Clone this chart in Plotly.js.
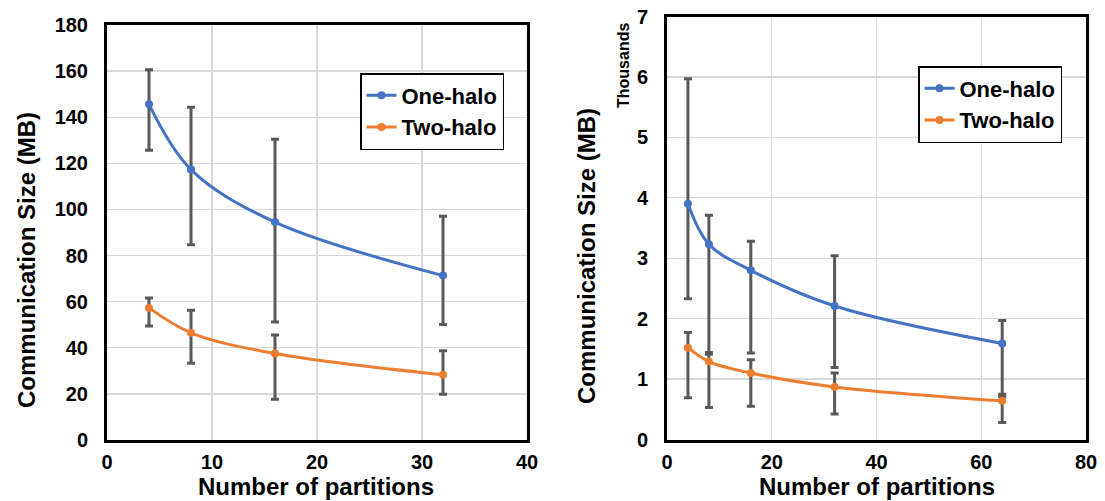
<!DOCTYPE html>
<html>
<head>
<meta charset="utf-8">
<script src="https://cdn.plot.ly/plotly-3.0.1.min.js"></script>
<style>html,body{margin:0;padding:0;background:#fff;}#chart{width:1105px;height:501px;}</style>
</head>
<body>
<div id="chart"></div>
<script>
// Left chart (MB)
const partsA = [4, 8, 16, 32];
const oneHaloA = [145.6, 117.3, 94.5, 71.3];
const oneHaloA_hi = [160.6, 144.3, 130.4, 97.0];
const oneHaloA_lo = [125.7, 84.7, 51.2, 50.1];
const twoHaloA = [57.3, 46.5, 37.5, 28.3];
const twoHaloA_hi = [61.6, 56.3, 45.5, 38.7];
const twoHaloA_lo = [49.4, 33.3, 17.7, 19.8];

// Right chart (thousands of MB)
const partsB = [4, 8, 16, 32, 64];
const oneHaloB = [3.90, 3.23, 2.80, 2.21, 1.59];
const oneHaloB_hi = [5.97, 3.71, 3.28, 3.04, 1.97];
const oneHaloB_lo = [2.33, 1.44, 1.43, 1.19, 0.75];
const twoHaloB = [1.52, 1.29, 1.10, 0.87, 0.64];
const twoHaloB_hi = [1.77, 1.41, 1.32, 1.10, 0.71];
const twoHaloB_lo = [0.69, 0.53, 0.55, 0.42, 0.28];

const seriesNames = ['One-halo', 'Two-halo'];
const colors = ['#4472C4', '#ED7D31'];
const errColor = '#595959';

const FONT = 'Liberation Sans, Arial, Helvetica, sans-serif';

function diff(a, b) { return a.map((v, i) => v - b[i]); }

function mk(x, y, hi, lo, idx, xa, ya, leg) {
  return {
    x: x, y: y, name: seriesNames[idx], type: 'scatter', mode: 'lines+markers',
    xaxis: xa, yaxis: ya, legend: leg,
    line: {color: colors[idx], width: 3, shape: 'spline', smoothing: 1},
    marker: {color: colors[idx], size: 8},
    error_y: {type: 'data', symmetric: false, array: diff(hi, y), arrayminus: diff(y, lo),
      color: errColor, thickness: 3, width: 4}
  };
}

const data = [
  mk(partsA, oneHaloA, oneHaloA_hi, oneHaloA_lo, 0, 'x', 'y', 'legend'),
  mk(partsA, twoHaloA, twoHaloA_hi, twoHaloA_lo, 1, 'x', 'y', 'legend'),
  mk(partsB, oneHaloB, oneHaloB_hi, oneHaloB_lo, 0, 'x2', 'y2', 'legend2'),
  mk(partsB, twoHaloB, twoHaloB_hi, twoHaloB_lo, 1, 'x2', 'y2', 'legend2')
];

const axBase = {
  showline: true, mirror: true, linecolor: '#000', linewidth: 3,
  showgrid: true, gridcolor: '#d9d9d9', gridwidth: 1.3,
  zeroline: false, ticks: '',
  tickfont: {family: FONT, size: 20, color: '#000', weight: 'bold'},
  fixedrange: true
};

const legBase = {
  bgcolor: '#fff', bordercolor: '#000', borderwidth: 1.5,
  font: {family: FONT, size: 22, color: '#000', weight: 'bold'},
  xanchor: 'left', yanchor: 'top', tracegroupgap: 0, itemwidth: 30
};

const layout = {
  width: 1105, height: 501,
  margin: {l: 0, r: 0, t: 0, b: 0},
  paper_bgcolor: '#fff', plot_bgcolor: '#fff',
  showlegend: true,
  xaxis: Object.assign({}, axBase, {domain: [107/1105, 527/1105], range: [0, 40], dtick: 10, tick0: 0, anchor: 'y', ticklabelstandoff: 2}),
  yaxis: Object.assign({}, axBase, {domain: [1 - 440/501, 1 - 25/501], range: [0, 180], dtick: 20, tick0: 0, anchor: 'x', ticklabelstandoff: 12}),
  xaxis2: Object.assign({}, axBase, {domain: [667/1105, 1086/1105], range: [0, 80], dtick: 20, tick0: 0, anchor: 'y2', ticklabelstandoff: 2}),
  yaxis2: Object.assign({}, axBase, {domain: [1 - 439.5/501, 1 - 16.5/501], range: [0, 7], dtick: 1, tick0: 0, anchor: 'x2', ticklabelstandoff: 12}),
  legend: Object.assign({}, legBase, {x: 360/1105, y: 1 - 73/501}),
  legend2: Object.assign({}, legBase, {x: 918/1105, y: 1 - 66/501}),
  annotations: [
    {text: 'Communication Size (MB)', xref: 'paper', yref: 'paper', x: 26/1105, y: 1 - 260/501, textangle: -90,
     showarrow: false, xanchor: 'center', yanchor: 'middle', font: {family: FONT, size: 24, color: '#000', weight: 'bold'}},
    {text: 'Communication Size (MB)', xref: 'paper', yref: 'paper', x: 587/1105, y: 1 - 256/501, textangle: -90,
     showarrow: false, xanchor: 'center', yanchor: 'middle', font: {family: FONT, size: 24, color: '#000', weight: 'bold'}},
    {text: 'Thousands', xref: 'paper', yref: 'paper', x: 623/1105, y: 1 - 66/501, textangle: -90,
     showarrow: false, xanchor: 'center', yanchor: 'middle', font: {family: FONT, size: 16, color: '#000', weight: 'bold'}},
    {text: 'Number of partitions', xref: 'paper', yref: 'paper', x: 316/1105, y: 1 - 486/501,
     showarrow: false, xanchor: 'center', yanchor: 'middle', font: {family: FONT, size: 24, color: '#000', weight: 'bold'}},
    {text: 'Number of partitions', xref: 'paper', yref: 'paper', x: 877/1105, y: 1 - 486/501,
     showarrow: false, xanchor: 'center', yanchor: 'middle', font: {family: FONT, size: 24, color: '#000', weight: 'bold'}}
  ]
};

Plotly.newPlot('chart', data, layout, {displayModeBar: false, staticPlot: true});
</script>
</body>
</html>
